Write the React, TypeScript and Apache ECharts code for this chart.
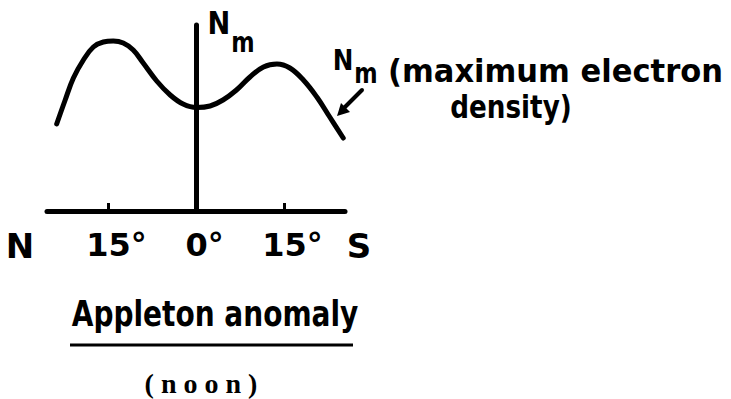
import React, { useEffect, useRef } from "react";
import * as echarts from "echarts";

// Latitude (degrees, negative = north) and relative maximum electron density Nm
const latitudeDeg = [-23.85, -22.4, -21.0, -19.3, -17.6, -15.9, -14.2, -12.5, -10.8, -9.1, -6.8, -4.5, -2.3, 0, 2.3, 4.5, 6.8, 9.1, 11.4, 13.7, 15.9, 18.2, 20.5, 22.7, 25.0];
const electronDensity = [87, 111, 133, 151, 164, 169, 170, 168, 161, 148, 130, 116, 107, 103.5, 105, 111, 121, 134, 144, 147, 143, 131, 114, 94, 73];

const tickValues = [-15, 0, 15];
const tickLabels = ["15°", "0°", "15°"];
const minorTickValues = [-15, 15];
const hemisphereLabels = ["N", "S"];
const axisTitle = ["N", "m"];
const curveLabel = ["N", "m", "(maximum electron", "density)"];
const caption = "Appleton anomaly";
const subCaption = "( n o o n )";

const LETTER = "DejaVu Sans";

export default function App() {
  const ref = useRef<HTMLDivElement>(null);
  useEffect(() => {
    if (!ref.current) return;
    const chart = echarts.init(ref.current, null, { renderer: "svg" });
    const txt = (text: string, x: number, y: number, fontSize: number, align: string, scaleX = 1, family = LETTER, weight = "bold") => ({
      type: "text",
      x,
      y,
      scaleX,
      style: {
        text,
        fill: "#000",
        fontSize,
        fontFamily: family,
        fontWeight: weight,
        textAlign: align,
        textVerticalAlign: "middle",
      },
    });
    chart.setOption({
      animation: false,
      backgroundColor: "#fff",
      grid: { left: 47, top: 25, width: 298, height: 186, outerBoundsMode: "none" },
      xAxis: {
        type: "value",
        min: -25.5,
        max: 25.3,
        splitLine: { show: false },
        axisLine: { show: true, onZero: true, lineStyle: { color: "#000", width: 5, cap: "round" } },
        axisTick: { show: true, inside: true, length: 8, customValues: minorTickValues, lineStyle: { color: "#000", width: 3 } },
        axisLabel: {
          customValues: tickValues,
          formatter: (v: number) => tickLabels[tickValues.indexOf(v)] ?? "",
          color: "#000",
          fontSize: 32,
          fontFamily: LETTER,
          fontWeight: "bold",
          margin: 18,
          padding: [0, 0, 0, 16],
        },
      },
      yAxis: {
        type: "value",
        min: 0,
        max: 186,
        splitLine: { show: false },
        axisLine: { show: true, onZero: true, lineStyle: { color: "#000", width: 5 } },
        axisTick: { show: false },
        axisLabel: { show: false },
      },
      series: [
        {
          type: "line",
          data: latitudeDeg.map((x, i) => [x, electronDensity[i]]),
          smooth: 0.4,
          showSymbol: false,
          lineStyle: { color: "#000", width: 5, cap: "round" },
          z: 3,
        },
      ],
      graphic: [
        txt(hemisphereLabels[0], 20, 246, 34, "center"),
        txt(hemisphereLabels[1], 359, 246, 34, "center"),
        txt(axisTitle[0], 219, 23, 32, "center", 0.85),
        txt(axisTitle[1], 243, 42, 28, "center", 0.8),
        txt(curveLabel[0], 343, 60, 29, "center", 0.85),
        txt(curveLabel[1], 366, 73, 28, "center", 0.8),
        txt(curveLabel[2], 388, 71, 32, "left", 0.955),
        txt(curveLabel[3], 511, 107, 32, "center", 0.82),
        {
          type: "polyline",
          shape: { points: [[362, 90], [345, 107]] },
          style: { stroke: "#000", lineWidth: 4, lineCap: "round" },
        },
        {
          type: "polygon",
          shape: { points: [[337, 116], [350, 112], [341, 103]] },
          style: { fill: "#000" },
        },
        txt(caption, 215, 314, 35, "center", 0.8),
        {
          type: "line",
          shape: { x1: 70, y1: 345, x2: 353, y2: 345 },
          style: { stroke: "#000", lineWidth: 3 },
        },
        txt(subCaption, 201, 383, 28, "center", 1, "Liberation Serif", "bold"),
      ],
    });
    return () => chart.dispose();
  }, []);
  return <div ref={ref} style={{ position: "absolute", left: 0, top: 0, width: 731, height: 399, background: "#fff" }} />;
}
